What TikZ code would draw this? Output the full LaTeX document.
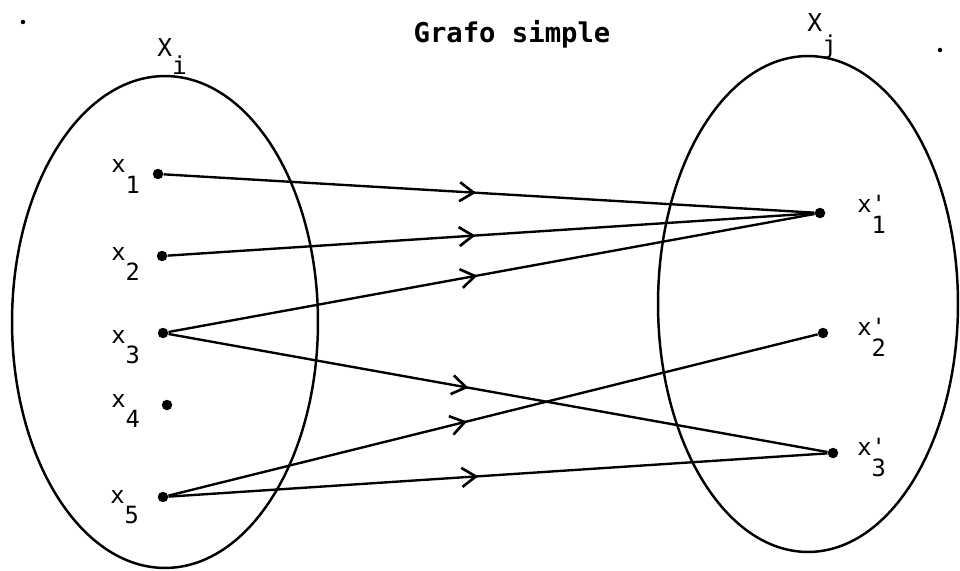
\documentclass[tikz,border=0pt]{standalone}
\usepackage{fontspec}
\setmonofont{DejaVu Sans Mono}
\usetikzlibrary{decorations.markings,arrows.meta,shapes.geometric}
\newcommand{\lsub}[2]{#1\raisebox{-0.88em}{#2}}
\newcommand{\lpsub}[2]{#1\rlap{'}\raisebox{-0.9em}{#2}}
\begin{document}
\begin{tikzpicture}[x=0.02cm,y=-0.02cm,
  setshape/.style={ellipse, draw, line width=1.4pt, inner sep=0pt},
  dotnode/.style={circle, fill, inner sep=0pt, minimum size=0.21cm},
  lbl/.style={anchor=base west, inner sep=0pt, font=\ttfamily\fontsize{13.5}{15}\selectfont},
  setlbl/.style={anchor=base west, inner sep=0pt, font=\ttfamily\fontsize{14}{16}\selectfont},
  conn/.style={line width=1.35pt, postaction={decorate},
    decoration={markings, mark=at position #1 with {\arrow{Straight Barb[length=2.8mm,width=3.8mm,line width=1.5pt]}}}},
  speck/.style={circle, fill, inner sep=0pt, minimum size=0.09cm}
]
\useasboundingbox (0,0) rectangle (960,571);

% title
\node[anchor=base, inner sep=0pt, font=\ttfamily\bfseries\fontsize{15.5}{18}\selectfont] (title) at (512,43) {Grafo simple};

% sets
\node[setshape, minimum width=6.12cm, minimum height=9.84cm] (Xi) at (165,322) {};
\node[setshape, minimum width=6.0cm, minimum height=9.92cm] (Xj) at (808,304) {};
\node[setlbl] (Xilbl) at (157,57) {X\raisebox{-0.73em}{i}};
\node[setlbl] (Xjlbl) at (807,32) {X\raisebox{-0.88em}{j}};

% points
\node[dotnode] (x1) at (158,174) {};
\node[dotnode] (x2) at (162,256) {};
\node[dotnode] (x3) at (163,333) {};
\node[dotnode] (x4) at (167,405) {};
\node[dotnode] (x5) at (163,497) {};
\node[dotnode] (y1) at (820,213) {};
\node[dotnode] (y2) at (823,333) {};
\node[dotnode] (y3) at (833,453) {};

% labels
\node[lbl] (lx1) at (111,173) {\lsub{x}{1}};
\node[lbl] (lx2) at (111,260) {\lsub{x}{2}};
\node[lbl] (lx3) at (111,343) {\lsub{x}{3}};
\node[lbl] (lx4) at (111,407) {\lsub{x}{4}};
\node[lbl] (lx5) at (110,503) {\lsub{x}{5}};
\node[lbl] (ly1) at (857,212) {\lpsub{x}{1}};
\node[lbl] (ly2) at (857,335) {\lpsub{x}{2}};
\node[lbl] (ly3) at (857,455) {\lpsub{x}{3}};

% connectors
\draw[conn=0.48] (x1) -- (y1);
\draw[conn=0.476] (x2) -- (y1);
\draw[conn=0.478] (x3) -- (y1);
\draw[conn=0.455] (x3) -- (y3);
\draw[conn=0.46] (x5) -- (y2);
\draw[conn=0.47] (x5) -- (y3);

% specks of the scan
\node[speck] (s1) at (23,22) {};
\node[speck] (s2) at (940,50) {};
\end{tikzpicture}
\end{document}
